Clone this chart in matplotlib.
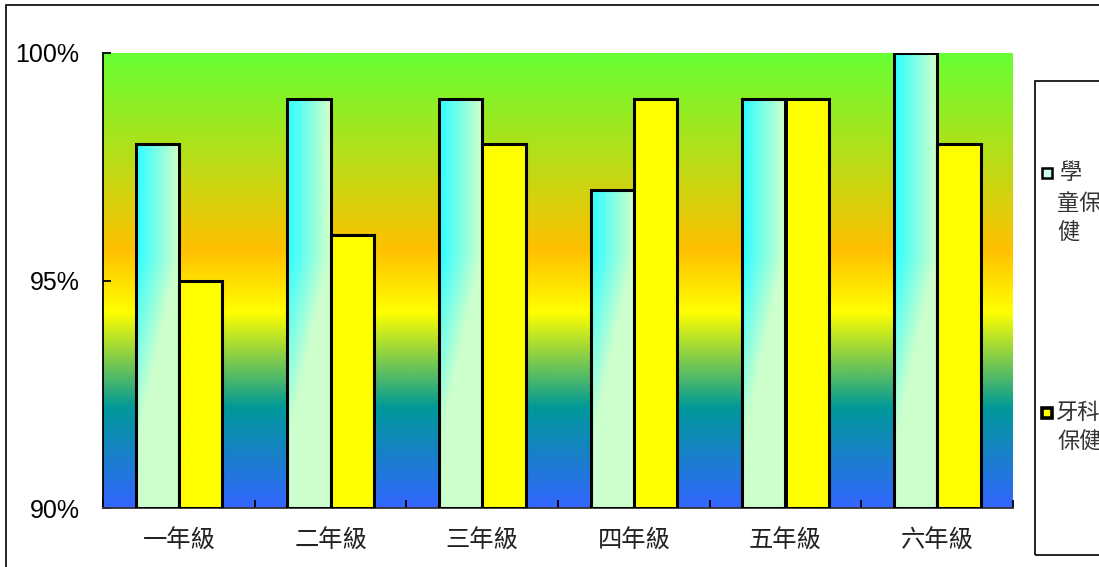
import numpy as np
import matplotlib
matplotlib.use("Agg")
import matplotlib.pyplot as plt
from matplotlib.colors import LinearSegmentedColormap, to_rgb
from matplotlib.patches import Rectangle
from matplotlib.ticker import FuncFormatter

categories = ["一年級", "二年級", "三年級", "四年級", "五年級", "六年級"]
series_names = ["學童保健", "牙科保健"]
school_health = [98, 99, 99, 97, 99, 100]
dental_health = [95, 96, 98, 99, 99, 98]
yticks = [90, 95, 100]

W, H = 1099, 567
fig = plt.figure(figsize=(W / 100, H / 100), dpi=100)
ax = fig.add_axes([103 / W, 1 - 508 / H, 910 / W, 455 / H])

ymin, ymax = 90, 100
n = len(categories)
ax.set_xlim(0, n)
ax.set_ylim(ymin, ymax)

# background gradient
bg_cmap = LinearSegmentedColormap.from_list(
    "bg",
    [(0.0, "#3366ff"), (0.22, "#009999"), (0.43, "#ffff00"),
     (0.567, "#ffc000"), (1.0, "#66ff33")])
grad = np.linspace(0, 1, 512).reshape(-1, 1)
ax.imshow(grad, cmap=bg_cmap, aspect="auto", origin="lower",
          extent=[0, n, ymin, ymax], zorder=0)

bw = 1 / 3.5
x = np.arange(n) + 0.5
bars1 = ax.bar(x - bw / 2, np.array(school_health) - ymin, bw, bottom=ymin,
               facecolor="none", edgecolor="black", linewidth=2.2, zorder=3)
bars2 = ax.bar(x + bw / 2, np.array(dental_health) - ymin, bw, bottom=ymin,
               facecolor="#ffff00", edgecolor="black", linewidth=2.2, zorder=3)

c_left = np.array(to_rgb("#33ffff"))
c_right = np.array(to_rgb("#ccffcc"))
for b in bars1:
    x0, y0 = b.get_x(), b.get_y()
    w, h = b.get_width(), b.get_height()
    nx, ny = 64, 200
    xs = np.linspace(0, 1, nx)
    vs = np.linspace(y0, y0 + h, ny)
    t = xs[None, :] * 1.1 - 0.05 + np.clip((95.5 - vs[:, None]) / 4.0, 0, 1)
    t = np.clip(t, 0, 1)
    img = c_left[None, None, :] * (1 - t[..., None]) + c_right[None, None, :] * t[..., None]
    im = ax.imshow(img, origin="lower", aspect="auto",
                   extent=[x0, x0 + w, y0, y0 + h], zorder=2)
    im.set_clip_path(b)

ax.set_xlim(0, n)
ax.set_ylim(ymin, ymax)

for s in ["top", "right"]:
    ax.spines[s].set_visible(False)
ax.spines["left"].set_linewidth(1.3)
ax.spines["bottom"].set_linewidth(1.3)
ax.spines["bottom"].set_color("#333333")

ax.set_yticks(yticks)
ax.yaxis.set_major_formatter(FuncFormatter(lambda v, p: f"{v:.0f}%"))
ax.tick_params(axis="y", direction="in", length=6, width=1.3, pad=17,
               labelsize=18)
for lbl in ax.get_yticklabels():
    lbl.set_fontfamily(["Liberation Sans", "DejaVu Sans"])

ax.set_xticks(np.arange(n + 1))
ax.set_xticklabels([])
ax.tick_params(axis="x", direction="in", length=6, width=1.3)
for xi, c in zip(x, categories):
    ax.text(xi, -0.073, c, transform=ax.get_xaxis_transform(),
            ha="center", va="center", fontsize=17.5,
            family=["Noto Sans CJK TC", "DejaVu Sans"], color="#222222")

# outer border
fig.patches.append(Rectangle((6 / W, -0.1), 1.2, 1 - 5 / H + 0.1,
                             transform=fig.transFigure, fill=False,
                             edgecolor="black", linewidth=1.2))

# legend box (clipped at right edge)
fig.patches.append(Rectangle((1035 / W, 1 - 555 / H), 0.2, (555 - 81) / H,
                             transform=fig.transFigure, fill=False,
                             edgecolor="black", linewidth=1.2))
fig.patches.append(Rectangle((1042 / W, 1 - 178 / H), 10 / W, 10 / H,
                             transform=fig.transFigure, facecolor="#ccffee",
                             edgecolor="black", linewidth=1.8))
fig.patches.append(Rectangle((1042 / W, 1 - 418 / H), 10 / W, 10 / H,
                             transform=fig.transFigure, facecolor="#ffff00",
                             edgecolor="black", linewidth=2.6))
cjk = ["Noto Sans CJK TC", "DejaVu Sans"]
name1, name2 = series_names
fig.text(1060 / W, 1 - 173 / H, name1[0], fontsize=16, family=cjk,
         va="center", ha="left", color="#333333")
fig.text(1057 / W, 1 - 203 / H, name1[1:3], fontsize=16, family=cjk,
         va="center", ha="left", color="#333333")
fig.text(1057 / W, 1 - 232 / H, name1[3:], fontsize=16, family=cjk,
         va="center", ha="left", color="#333333")
fig.text(1056 / W, 1 - 412 / H, name2[:2], fontsize=16, family=cjk,
         va="center", ha="left", color="#333333")
fig.text(1057 / W, 1 - 441 / H, name2[2:], fontsize=16, family=cjk,
         va="center", ha="left", color="#333333")

fig.savefig("out.png", dpi=100)
